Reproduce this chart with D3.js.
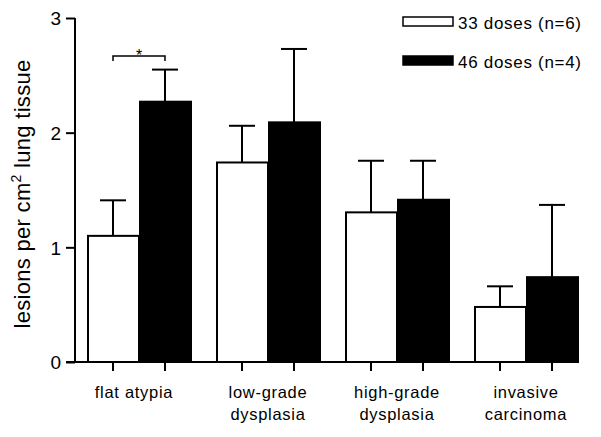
<!DOCTYPE html>
<html>
<head>
<meta charset="utf-8">
<script src="https://cdn.jsdelivr.net/npm/d3@7"></script>
<style>
  body { margin: 0; background: #fff; }
  svg { display: block; font-family: "Liberation Sans", Arial, sans-serif; }
</style>
</head>
<body>
<div id="chart"></div>
<script>
const categories = ["flat atypia", "low-grade\ndysplasia", "high-grade\ndysplasia", "invasive\ncarcinoma"];
const seriesNames = ["33 doses (n=6)", "46 doses (n=4)"];
const means33 = [1.10, 1.74, 1.305, 0.48];
const errs33 = [1.41, 2.06, 1.755, 0.66];
const means46 = [2.27, 2.09, 1.415, 0.74];
const errs46 = [2.55, 2.73, 1.755, 1.37];
const yTicks = [0, 1, 2, 3];

const width = 601, height = 437;
const svg = d3.select("#chart").append("svg")
  .attr("width", width).attr("height", height);

const y = d3.scaleLinear().domain([0, 3]).range([362, 18]);
const x = d3.scaleBand().domain(categories).range([87, 578]).paddingInner(25 / 129).paddingOuter(0);
const xs = d3.scaleBand().domain([0, 1]).range([0, x.bandwidth()]);

const data = [];
categories.forEach((c, i) => {
  data.push({ cat: c, s: 0, v: means33[i], e: errs33[i] });
  data.push({ cat: c, s: 1, v: means46[i], e: errs46[i] });
});
const bx = d => x(d.cat) + xs(d.s);

// error bars (drawn first so bars sit on top)
const eb = svg.append("g").attr("stroke", "#000").attr("stroke-width", 2);
eb.selectAll("line.v").data(data).enter().append("line")
  .attr("x1", d => bx(d) + xs.bandwidth() / 2).attr("x2", d => bx(d) + xs.bandwidth() / 2)
  .attr("y1", d => y(d.v)).attr("y2", d => y(d.e));
eb.selectAll("line.c").data(data).enter().append("line")
  .attr("x1", d => bx(d) + xs.bandwidth() / 4).attr("x2", d => bx(d) + xs.bandwidth() * 3 / 4)
  .attr("y1", d => y(d.e)).attr("y2", d => y(d.e));

// bars
svg.append("g").selectAll("rect").data(data).enter().append("rect")
  .attr("x", d => bx(d) + 1)
  .attr("y", d => y(d.v))
  .attr("width", xs.bandwidth() - 1)
  .attr("height", d => y(0) - y(d.v))
  .attr("fill", d => d.s === 0 ? "#fff" : "#000")
  .attr("stroke", "#000").attr("stroke-width", 2);

// y axis
const yAxis = svg.append("g").attr("transform", "translate(75,0)")
  .call(d3.axisLeft(y).tickValues(yTicks).tickFormat(d3.format("d")).tickSize(9).tickPadding(5));
yAxis.select(".domain").attr("d", "M0," + y(3) + "V" + y(0)).attr("stroke-width", 2);
yAxis.selectAll(".tick line").attr("stroke-width", 2);
yAxis.selectAll(".tick text").attr("font-size", 19).attr("font-family", "Liberation Sans, Arial, sans-serif")
  .attr("fill", "#000").attr("dy", "0.36em");

// x axis line + ticks
const xa = svg.append("g").attr("stroke", "#000").attr("stroke-width", 2);
xa.append("line").attr("x1", 66).attr("x2", x.range()[1]).attr("y1", y(0)).attr("y2", y(0));
xa.selectAll("line.t").data(data).enter().append("line")
  .attr("x1", d => bx(d) + xs.bandwidth() / 2).attr("x2", d => bx(d) + xs.bandwidth() / 2)
  .attr("y1", y(0)).attr("y2", y(0) + 9);

// category labels
const cl = svg.append("g").attr("font-size", 16.5).attr("letter-spacing", 0.7).attr("text-anchor", "middle");
categories.forEach((c, i) => {
  const cx = x(c) + x.bandwidth() / 2 - (i === 0 ? 5 : 0);
  const t = cl.append("text").attr("x", cx).attr("y", 398);
  c.split("\n").forEach((line, k) => {
    t.append("tspan").attr("x", cx).attr("dy", k === 0 ? 0 : 22).text(line);
  });
});

// y axis title
const yt = svg.append("text").attr("transform", "translate(30,194) rotate(-90)")
  .attr("text-anchor", "middle").attr("font-size", 22).attr("letter-spacing", 0.3);
yt.append("tspan").text("lesions per cm");
yt.append("tspan").attr("font-size", 14).attr("dy", -9).text("2");
yt.append("tspan").attr("dy", 9).text(" lung tissue");

// legend
const lg = svg.append("g");
seriesNames.forEach((n, i) => {
  const ly = 17 + i * 39;
  lg.append("rect").attr("x", 403).attr("y", ly).attr("width", 50).attr("height", 9)
    .attr("fill", i === 0 ? "#fff" : "#000").attr("stroke", "#000").attr("stroke-width", 1.5);
  lg.append("text").attr("x", 458).attr("y", ly + 12).attr("font-size", 17)
    .attr("letter-spacing", 0.7).text(n);
});

// significance bracket on flat atypia
const c0 = categories[0];
const xa0 = x(c0) + xs(0) + xs.bandwidth() / 2, xb0 = x(c0) + xs(1) + xs.bandwidth() / 2;
svg.append("path")
  .attr("d", `M${xa0},61V56H${xb0}V61`)
  .attr("fill", "none").attr("stroke", "#000").attr("stroke-width", 1.5);
svg.append("text").attr("x", (xa0 + xb0) / 2).attr("y", 61).attr("text-anchor", "middle")
  .attr("font-size", 16).text("*");
</script>
</body>
</html>
